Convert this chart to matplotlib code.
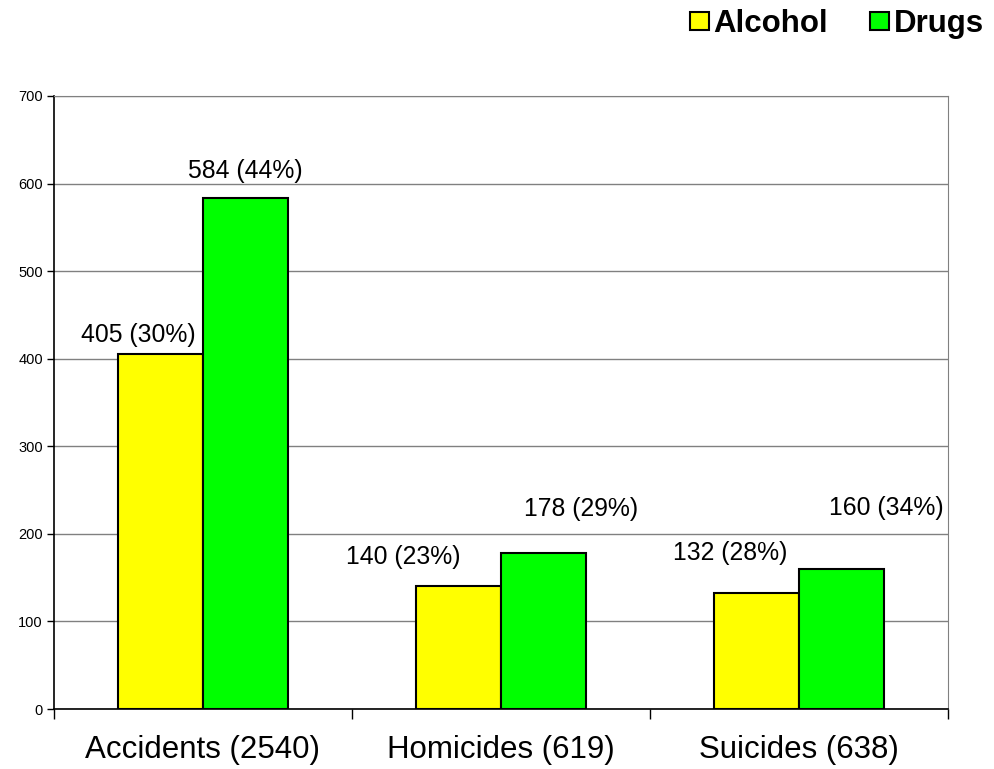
import matplotlib
matplotlib.use("Agg")
import matplotlib.pyplot as plt
import numpy as np
from matplotlib.patches import Patch

plt.rcParams["font.family"] = ["Liberation Sans", "DejaVu Sans"]

# =============================================================================
# DATA
# =============================================================================

categories = ["Accidents (2540)", "Homicides (619)", "Suicides (638)"]
series_names = ["Alcohol", "Drugs"]
alcohol_values = [405, 140, 132]
drugs_values = [584, 178, 160]
alcohol_pct = [30, 23, 28]
drugs_pct = [44, 29, 34]

# label offsets (points) from top centre of each bar, as placed in the original
alcohol_offsets = [(-16, 14), (-40, 21), (-19, 29)]
drugs_offsets = [(0, 19), (27, 32), (32, 44)]

colors = ["#FFFF00", "#00FF00"]

# =============================================================================
# FIGURE
# =============================================================================

fig = plt.figure(figsize=(9.94, 7.69), dpi=100)
ax = fig.add_axes([0.0543, 0.078, 0.8994, 0.7972])

x = np.arange(len(categories))
width = 0.285

bars_a = ax.bar(x - width / 2, alcohol_values, width,
                color=colors[0], edgecolor="black", linewidth=1.5, zorder=3)
bars_d = ax.bar(x + width / 2, drugs_values, width,
                color=colors[1], edgecolor="black", linewidth=1.5, zorder=3)

for bars, vals, pcts, offs in [
    (bars_a, alcohol_values, alcohol_pct, alcohol_offsets),
    (bars_d, drugs_values, drugs_pct, drugs_offsets),
]:
    for b, v, p, o in zip(bars, vals, pcts, offs):
        ax.annotate(f"{v} ({p}%)",
                    xy=(b.get_x() + b.get_width() / 2, b.get_height()),
                    xytext=o, textcoords="offset points",
                    ha="center", va="center", fontsize=17.8)

ax.set_xlim(-0.5, len(categories) - 0.5)
ax.set_ylim(0, 700)
ax.set_yticks(np.arange(0, 701, 100))
ax.yaxis.grid(True, color="#808080", linewidth=1, zorder=0)
ax.tick_params(axis="y", labelsize=10.5, length=5, width=1, pad=3)

ax.set_xticks(x)
ax.set_xticklabels(categories, fontsize=22.5)
ax.set_xticks(np.arange(-0.5, len(categories)), minor=True)
ax.tick_params(axis="x", which="major", length=0, pad=19)
ax.tick_params(axis="x", which="minor", length=7, width=1)

for side in ["top", "right"]:
    ax.spines[side].set_color("#808080")
for side in ["left", "bottom"]:
    ax.spines[side].set_color("black")
    ax.spines[side].set_linewidth(1.2)

handles = [Patch(facecolor=c, edgecolor="black", linewidth=1.5) for c in colors]
leg = fig.legend(handles, series_names, loc="upper right",
                 bbox_to_anchor=(1.018, 1.025), ncol=2, frameon=False,
                 prop={"weight": "bold", "size": 22.5},
                 handlelength=0.6, handleheight=0.5,
                 handletextpad=0.15, columnspacing=1.35)

fig.savefig("out.png", dpi=100)
